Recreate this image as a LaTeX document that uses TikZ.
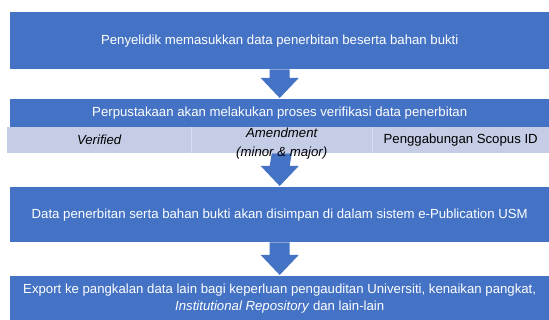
\documentclass[tikz,border=0pt]{standalone}
\usepackage{fontspec}
\setmainfont{Liberation Sans}
\usetikzlibrary{calc,backgrounds}

\definecolor{boxblue}{RGB}{68,114,196}
\definecolor{cellblue}{RGB}{197,205,230}
\definecolor{celledge}{RGB}{216,222,240}

\tikzset{
  bluebox/.style={fill=boxblue, text=white, inner sep=0pt, anchor=north west,
    minimum width=539pt, align=center, font=\fontsize{13.2}{17}\selectfont},
  cellbox/.style={fill=cellblue, text=black, inner sep=0pt, anchor=north west,
    minimum height=26pt, font=\fontsize{13.2}{17}\selectfont},
}

% block arrow from one box down to the next
\newcommand{\flowarrow}[2]{%
  \fill[boxblue] ($(#1.south)+(-10,0)$) -- ($(#1.south)+(10,0)$)
    -- ($(#2.north)+(10,21)$) -- ($(#2.north)+(19,21)$) -- ($(#2.north)+(0,1)$)
    -- ($(#2.north)+(-19,21)$) -- ($(#2.north)+(-10,21)$) -- cycle;}

\begin{document}
\begin{tikzpicture}[x=1pt, y=1pt]
  \useasboundingbox (0,0) rectangle (549,-320);

  % Blue boxes
  \node[bluebox, minimum height=57pt] (enter) at (10,-12)
    {Penyelidik memasukkan data penerbitan beserta bahan bukti};
  \node[bluebox, minimum height=28pt] (verify) at (10,-99)
    {Perpustakaan akan melakukan proses verifikasi data penerbitan};

  % Light row under the verification box
  \node[cellbox, minimum width=184pt] (verified) at (7,-127) {\itshape Verified};
  \node[cellbox, minimum width=181pt,
    label={[font=\fontsize{13.2}{18.7}\selectfont\itshape, align=center, yshift=-3.5pt]center:Amendment\\(minor \& major)}]
    (amend) at (191,-127) {};
  \node[cellbox, minimum width=177pt] (scopus) at (372,-127) {Penggabungan Scopus ID};
  \draw[celledge, line width=1.5pt] (verified.north east) -- (verified.south east);
  \draw[celledge, line width=1.5pt] (amend.north east) -- (amend.south east);

  \node[bluebox, minimum height=55pt] (store) at (10,-187)
    {Data penerbitan serta bahan bukti akan disimpan di dalam sistem e-Publication USM};
  \node[bluebox, minimum height=44pt] (export) at (10,-276)
    {Export ke pangkalan data lain bagi keperluan pengauditan Universiti, kenaikan pangkat,\\
     \textit{Institutional Repository} dan lain-lain};

  % Arrows (behind the texts)
  \begin{pgfonlayer}{background}
    \flowarrow{enter}{verify}
    \flowarrow{amend}{store}
    \flowarrow{store}{export}
  \end{pgfonlayer}
\end{tikzpicture}
\end{document}
